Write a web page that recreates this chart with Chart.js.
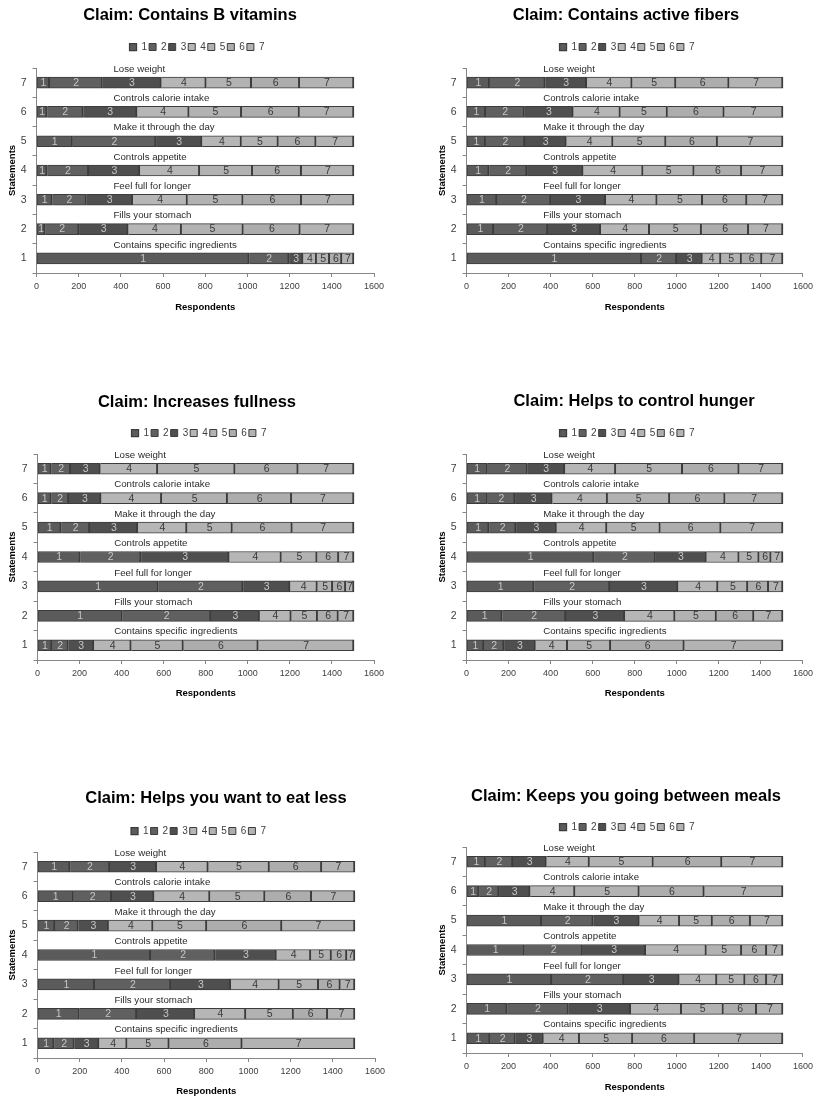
<!DOCTYPE html>
<html>
<head>
<meta charset="utf-8">
<script src="https://cdn.jsdelivr.net/npm/chart.js@4.4.1/dist/chart.umd.min.js"></script>
<style>
  html, body { margin: 0; padding: 0; background: #fff; width: 817px; height: 1099px; overflow: hidden; }
  canvas { position: absolute; }
</style>
</head>
<body>
<canvas id="c1"></canvas>
<canvas id="c2"></canvas>
<canvas id="c3"></canvas>
<canvas id="c4"></canvas>
<canvas id="c5"></canvas>
<canvas id="c6"></canvas>
<script>
// ---- data ----
const claimTitles = [
  'Claim: Contains B vitamins',
  'Claim: Contains active fibers',
  'Claim: Increases fullness',
  'Claim: Helps to control hunger',
  'Claim: Helps you want to eat less',
  'Claim: Keeps you going between meals'
];
const statementNumbers = ['1', '2', '3', '4', '5', '6', '7'];
const statements = [
  'Contains specific ingredients',
  'Fills your stomach',
  'Feel full for longer',
  'Controls appetite',
  'Make it through the day',
  'Controls calorie intake',
  'Lose weight'
];
const ratingLevels = ['1', '2', '3', '4', '5', '6', '7'];
const respondentTicks = [0, 200, 400, 600, 800, 1000, 1200, 1400, 1600];

// respondents per rating level (1..7), one row per statement (1..7)
const bVitamins = [
  [1009, 189, 66, 64, 62, 58, 57],
  [41, 161, 233, 253, 293, 270, 254],
  [75, 162, 219, 260, 264, 277, 248],
  [51, 197, 242, 284, 251, 232, 248],
  [171, 396, 218, 187, 175, 179, 179],
  [51, 171, 255, 247, 249, 274, 258],
  [63, 250, 279, 213, 215, 228, 257]
];
const activeFibers = [
  [833, 167, 122, 88, 98, 97, 100],
  [130, 257, 251, 233, 247, 224, 163],
  [145, 257, 260, 245, 216, 211, 171],
  [108, 180, 267, 285, 243, 226, 196],
  [91, 187, 197, 222, 252, 245, 311],
  [92, 184, 232, 224, 224, 270, 279],
  [110, 265, 197, 216, 208, 253, 256]
];
const increasesFullness = [
  [69, 78, 121, 178, 248, 356, 455],
  [404, 421, 231, 151, 125, 99, 74],
  [575, 403, 223, 130, 73, 62, 39],
  [204, 289, 419, 248, 170, 103, 72],
  [113, 136, 228, 234, 216, 285, 293],
  [66, 83, 154, 288, 313, 305, 296],
  [66, 92, 141, 273, 368, 300, 265]
];
const controlHunger = [
  [83, 96, 149, 153, 205, 350, 469],
  [170, 303, 280, 239, 197, 178, 138],
  [322, 360, 324, 190, 142, 99, 68],
  [607, 292, 242, 156, 95, 57, 56],
  [108, 128, 192, 240, 254, 289, 294],
  [100, 131, 177, 263, 296, 263, 275],
  [100, 190, 178, 242, 318, 269, 208]
];
const eatLess = [
  [79, 96, 117, 133, 200, 346, 534],
  [199, 272, 275, 242, 226, 162, 129],
  [271, 362, 283, 231, 186, 103, 69],
  [537, 306, 290, 163, 98, 73, 38],
  [83, 111, 143, 211, 255, 356, 346],
  [171, 181, 201, 265, 261, 221, 205],
  [155, 188, 222, 245, 290, 248, 157]
];
const betweenMeals = [
  [112, 121, 133, 172, 253, 295, 419],
  [194, 291, 296, 242, 199, 158, 125],
  [406, 343, 263, 179, 134, 103, 77],
  [276, 276, 300, 289, 168, 119, 77],
  [358, 245, 219, 192, 156, 181, 154],
  [60, 95, 148, 213, 306, 309, 374],
  [91, 130, 159, 205, 304, 326, 290]
];

// ---- styling ----
const FONT = "'Liberation Sans', Arial, sans-serif";
const segmentColors = ['#5b5b5b', '#606060', '#4f4f4f', '#b6b6b6', '#b2b2b2', '#adadad', '#b3b3b3'];
Chart.defaults.font.family = FONT;
Chart.defaults.color = '#404040';

// number of each rating drawn inside its segment
const segmentLabels = {
  id: 'segmentLabels',
  afterDatasetsDraw(chart) {
    const ctx = chart.ctx;
    ctx.save();
    ctx.font = '10.5px ' + FONT;
    ctx.textAlign = 'center';
    ctx.textBaseline = 'middle';
    chart.data.datasets.forEach((ds, i) => {
      chart.getDatasetMeta(i).data.forEach(bar => {
        const p = bar.getProps(['x', 'base', 'y'], true);
        ctx.fillStyle = i < 3 ? '#c6c6c6' : '#3a3a3a';
        ctx.fillText(ds.label, (p.x + p.base) / 2, p.y + 0.5);
      });
    });
    ctx.restore();
  }
};

// statement text written just above each bar
const statementLabels = {
  id: 'statementLabels',
  afterDatasetsDraw(chart) {
    const ctx = chart.ctx;
    const area = chart.chartArea;
    const y = chart.scales.y;
    ctx.save();
    ctx.font = '9.7px ' + FONT;
    ctx.fillStyle = '#2a2a2a';
    ctx.textAlign = 'left';
    ctx.textBaseline = 'middle';
    const x0 = area.left + 0.228 * (area.right - area.left);
    statements.forEach((s, i) => ctx.fillText(s, x0, y.getPixelForValue(i) - 13.5));
    ctx.restore();
  }
};

// extra room between the legend row and the plot
const legendGap = {
  id: 'legendGap',
  beforeLayout(chart, args, opts) {
    const legend = chart.legend;
    if (legend && !legend._gapAdded) {
      const fit = legend.fit;
      const extra = opts.extra || 0;
      legend.fit = function () { fit.call(this); this.height += extra; };
      legend._gapAdded = true;
    }
  }
};

// horizontal nudge of the title and legend blocks
const headerShift = {
  id: 'headerShift',
  afterLayout(chart, args, opts) {
    const t = chart.titleBlock;
    if (t && opts.titleDx) { t.left += opts.titleDx; t.right += opts.titleDx; }
    const l = chart.legend;
    if (l && opts.legendDx) { l.left += opts.legendDx; l.right += opts.legendDx; }
  }
};

const panels = [
  { id: 'c1', title: claimTitles[0], rows: bVitamins,         left: 0,   top: 0,   width: 392, height: 313, titleTop: 5.1,  titleBottom: 15.1, titleDx: 3,    legendDx: 10, gap: 6, yWidth: 36.5, xHeight: 40, padRight: 18 },
  { id: 'c2', title: claimTitles[1], rows: activeFibers,      left: 430, top: 0,   width: 387, height: 313, titleTop: 5.1,  titleBottom: 15.1, titleDx: 9,    legendDx: 10, gap: 6, yWidth: 36.5, xHeight: 40, padRight: 13 },
  { id: 'c3', title: claimTitles[2], rows: increasesFullness, left: 0,   top: 330, width: 392, height: 369, titleTop: 62.1, titleBottom: 14.1, titleDx: 10,   legendDx: 12, gap: 6, yWidth: 37.5, xHeight: 39, padRight: 18 },
  { id: 'c4', title: claimTitles[3], rows: controlHunger,     left: 430, top: 330, width: 387, height: 369, titleTop: 61.1, titleBottom: 15.1, titleDx: 17,   legendDx: 10, gap: 6, yWidth: 36.5, xHeight: 39, padRight: 13 },
  { id: 'c5', title: claimTitles[4], rows: eatLess,           left: 0,   top: 710, width: 392, height: 387, titleTop: 78.1, titleBottom: 16.1, titleDx: 28.5, legendDx: 11, gap: 6, yWidth: 37.5, xHeight: 39, padRight: 17 },
  { id: 'c6', title: claimTitles[5], rows: betweenMeals,      left: 430, top: 710, width: 387, height: 383, titleTop: 76.1, titleBottom: 14.1, titleDx: 9,    legendDx: 10, gap: 5, yWidth: 36.5, xHeight: 40, padRight: 13 }
];

panels.forEach(p => {
  const canvas = document.getElementById(p.id);
  canvas.width = p.width;
  canvas.height = p.height;
  canvas.style.left = p.left + 'px';
  canvas.style.top = p.top + 'px';

  const datasets = ratingLevels.map((lvl, k) => ({
    label: lvl,
    data: p.rows.map(r => r[k]),
    backgroundColor: segmentColors[k],
    borderColor: '#3c3c3c',
    borderWidth: { top: 1, bottom: 1, left: k === 0 ? 1 : 0, right: 2 },
    borderSkipped: false,
    barThickness: 11
  }));

  new Chart(canvas, {
    type: 'bar',
    data: { labels: statementNumbers, datasets },
    plugins: [segmentLabels, statementLabels, legendGap, headerShift],
    options: {
      indexAxis: 'y',
      responsive: false,
      animation: false,
      layout: { padding: { left: 0, right: p.padRight, top: 0, bottom: 0 } },
      plugins: {
        title: {
          display: true,
          text: p.title,
          color: '#000',
          font: { size: 16.5, weight: 'bold', family: FONT },
          padding: { top: p.titleTop, bottom: p.titleBottom }
        },
        legend: {
          display: true,
          position: 'top',
          labels: {
            boxWidth: 7,
            boxHeight: 7,
            padding: 2,
            color: '#404040',
            font: { size: 10, family: FONT }
          }
        },
        legendGap: { extra: p.gap },
        headerShift: { titleDx: p.titleDx, legendDx: p.legendDx },
        tooltip: { enabled: false }
      },
      scales: {
        x: {
          stacked: true,
          min: respondentTicks[0],
          max: respondentTicks[respondentTicks.length - 1],
          afterBuildTicks(scale) { scale.ticks = respondentTicks.map(v => ({ value: v })); },
          afterFit(scale) { scale.height = p.xHeight; },
          grid: { drawOnChartArea: false, drawTicks: true, tickLength: 4, color: '#868686' },
          border: { color: '#868686' },
          ticks: {
            padding: 4,
            color: '#404040',
            font: { size: 9, family: FONT },
            maxRotation: 0,
            callback: v => String(v)
          },
          title: {
            display: true,
            text: 'Respondents',
            color: '#000',
            font: { size: 9.5, weight: 'bold', family: FONT },
            padding: { top: 0, bottom: 0 }
          }
        },
        y: {
          stacked: true,
          reverse: true,
          afterFit(scale) { scale.width = p.yWidth; },
          grid: { drawOnChartArea: false, drawTicks: true, tickLength: 4, color: '#868686', offset: true },
          border: { color: '#868686' },
          ticks: { padding: 6, color: '#404040', font: { size: 10.5, family: FONT } },
          title: {
            display: true,
            text: 'Statements',
            color: '#000',
            font: { size: 9.5, weight: 'bold', family: FONT },
            padding: { top: 6.3, bottom: 0 }
          }
        }
      }
    }
  });
});
</script>
</body>
</html>
